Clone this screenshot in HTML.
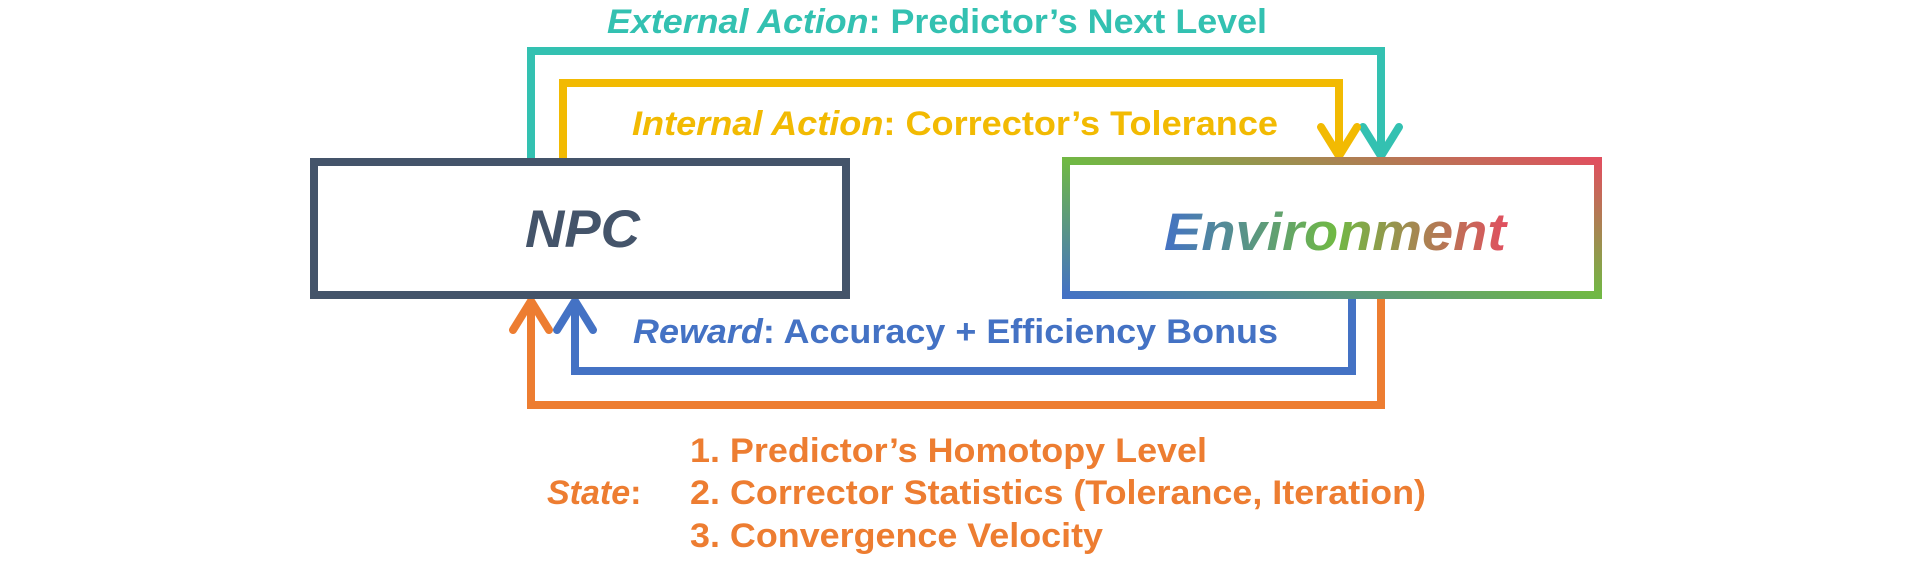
<!DOCTYPE html>
<html><head><meta charset="utf-8"><style>
html,body{margin:0;padding:0;background:#fff;}
svg{display:block;}
text{font-family:"Liberation Sans",Arial,sans-serif;font-weight:bold;}
</style></head><body>
<svg width="1915" height="565" viewBox="0 0 1915 565" xmlns="http://www.w3.org/2000/svg">
<defs>
<linearGradient id="bg" gradientUnits="userSpaceOnUse" x1="1300" y1="354" x2="1364" y2="102">
<stop offset="0" stop-color="#4472C4"/><stop offset="0.5" stop-color="#70B944"/><stop offset="1" stop-color="#E0505F"/>
</linearGradient>
<linearGradient id="tg" gradientUnits="userSpaceOnUse" x1="1164" y1="0" x2="1506" y2="0">
<stop offset="0" stop-color="#4472C4"/><stop offset="0.5" stop-color="#70B944"/><stop offset="1" stop-color="#E0505F"/>
</linearGradient>
</defs>
<g fill="none" stroke-width="8">
<polyline points="531,158 531,51 1381,51 1381,156" stroke="#33C1B1"/>
<polyline points="563,158 563,83 1339,83 1339,156" stroke="#F2BA02"/>
<polyline points="1352,299 1352,371 575,371 575,302" stroke="#4472C4"/>
<polyline points="1381,299 1381,405 531,405 531,302" stroke="#ED7D31"/>
</g>
<g fill="none" stroke-width="8" stroke-linecap="round" stroke-linejoin="round">
<polyline points="1363,127 1381,156 1399,127" stroke="#33C1B1"/>
<polyline points="1321,127 1339,156 1357,127" stroke="#F2BA02"/>
<polyline points="557,330 575,301 593,330" stroke="#4472C4"/>
<polyline points="513,330 531,301 549,330" stroke="#ED7D31"/>
</g>
<rect x="314" y="162" width="532" height="133" fill="none" stroke="#44546A" stroke-width="8"/>
<rect x="1066" y="161" width="532" height="134" fill="none" stroke="url(#bg)" stroke-width="8"/>
<text x="525" y="247" font-size="53" font-style="italic" fill="#44546A" textLength="115" lengthAdjust="spacingAndGlyphs">NPC</text>
<text x="1164" y="250" font-size="53" font-style="italic" fill="url(#tg)" textLength="342" lengthAdjust="spacingAndGlyphs">Environment</text>
<text x="607" y="33" font-size="34" fill="#33C1B1" textLength="660" lengthAdjust="spacingAndGlyphs"><tspan font-style="italic">External Action</tspan>: Predictor’s Next Level</text>
<text x="632" y="135" font-size="34" fill="#F2BA02" textLength="646" lengthAdjust="spacingAndGlyphs"><tspan font-style="italic">Internal Action</tspan>: Corrector’s Tolerance</text>
<text x="633" y="343" font-size="34" fill="#4472C4" textLength="645" lengthAdjust="spacingAndGlyphs"><tspan font-style="italic">Reward</tspan>: Accuracy + Efficiency Bonus</text>
<g fill="#ED7D31" font-size="34">
<text x="547" y="504" font-style="italic">State<tspan font-style="normal">:</tspan></text>
<text x="690" y="462" textLength="517" lengthAdjust="spacingAndGlyphs">1. Predictor’s Homotopy Level</text>
<text x="690" y="504" textLength="736" lengthAdjust="spacingAndGlyphs">2. Corrector Statistics (Tolerance, Iteration)</text>
<text x="690" y="547" textLength="413" lengthAdjust="spacingAndGlyphs">3. Convergence Velocity</text>
</g>
</svg>
</body></html>
